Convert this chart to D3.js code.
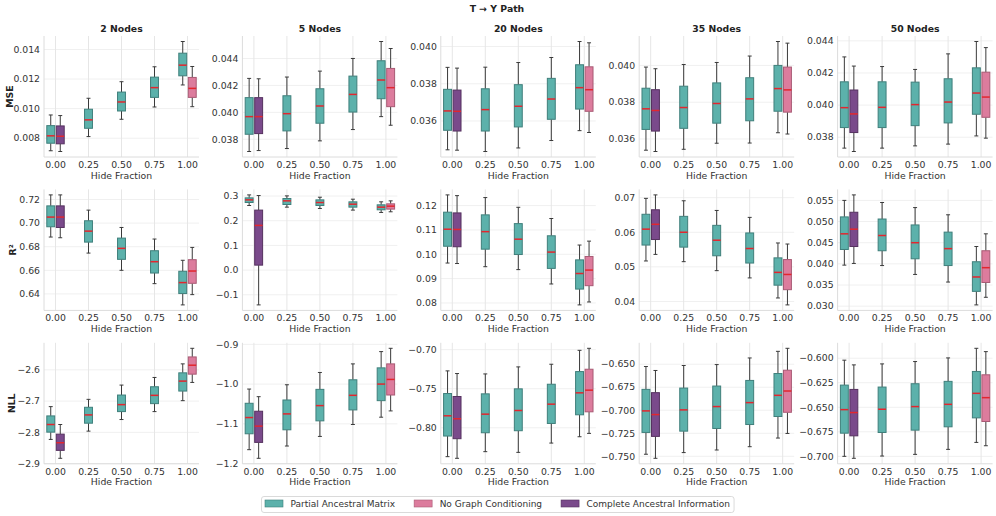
<!DOCTYPE html>
<html>
<head>
<meta charset="utf-8">
<script src="https://cdn.jsdelivr.net/npm/d3@7"></script>
<style>
body { margin: 0; background: #fff; }
svg { display: block; font-family: "DejaVu Sans", sans-serif; }
</style>
</head>
<body>
<svg id="chart"></svg>
<script>
const hideFractions = [0, 0.25, 0.5, 0.75, 1];
const nodeCounts = [2, 5, 20, 35, 50];
const metricNames = ["MSE", "R²", "NLL"];
const seriesNames = ["Partial Ancestral Matrix", "No Graph Conditioning", "Complete Ancestral Information"];

// every box: [whiskerLow, q1, median, q3, whiskerHigh]
// partial: one box per hide fraction, per node count
const msePartial = [
  [[0.00715, 0.00766, 0.00816, 0.00885, 0.00957], [0.00811, 0.00867, 0.00924, 0.00996, 0.0107], [0.00928, 0.00984, 0.01045, 0.01112, 0.01182], [0.01011, 0.01076, 0.01142, 0.01213, 0.01283], [0.0116, 0.01222, 0.01294, 0.01375, 0.01454]],
  [[0.03709, 0.03837, 0.03968, 0.04109, 0.04252], [0.03731, 0.03862, 0.0399, 0.04123, 0.04262], [0.03788, 0.03919, 0.04047, 0.04175, 0.04306], [0.03872, 0.04002, 0.04133, 0.04269, 0.044], [0.03968, 0.04101, 0.0424, 0.04383, 0.04526]],
  [[0.03445, 0.0355, 0.03654, 0.0377, 0.03888], [0.03436, 0.03546, 0.03661, 0.03773, 0.03889], [0.03455, 0.03568, 0.03679, 0.03795, 0.03914], [0.03495, 0.03609, 0.03718, 0.03829, 0.03941], [0.03548, 0.03664, 0.03779, 0.03902, 0.04027]],
  [[0.03539, 0.03652, 0.03764, 0.03876, 0.03991], [0.03544, 0.03658, 0.03771, 0.03887, 0.04005], [0.03577, 0.03686, 0.03793, 0.03905, 0.04016], [0.03578, 0.03699, 0.03818, 0.03933, 0.04051], [0.03634, 0.03751, 0.03874, 0.04, 0.0413]],
  [[0.03732, 0.0386, 0.03984, 0.04145, 0.043], [0.03732, 0.0386, 0.03986, 0.04145, 0.0424], [0.03746, 0.03872, 0.04003, 0.04143, 0.04222], [0.03757, 0.03889, 0.04019, 0.04164, 0.04319], [0.03808, 0.03943, 0.04075, 0.04232, 0.04396]]
];
const mseNoGraph = [
  [0.01013, 0.01076, 0.01137, 0.01211, 0.01285],
  [0.03904, 0.04042, 0.04183, 0.04326, 0.04474],
  [0.03538, 0.03652, 0.03768, 0.03891, 0.0402],
  [0.03627, 0.03746, 0.03867, 0.03991, 0.04121],
  [0.03794, 0.03924, 0.0405, 0.04205, 0.04358]
];
const mseComplete = [
  [0.0071, 0.00762, 0.00813, 0.00883, 0.00953],
  [0.03716, 0.03842, 0.03968, 0.04109, 0.04249],
  [0.03443, 0.03546, 0.03652, 0.03766, 0.03884],
  [0.03532, 0.03643, 0.03755, 0.03868, 0.03982],
  [0.03711, 0.03829, 0.03945, 0.04094, 0.04243]
];

const r2Partial = [
  [[0.6882, 0.6969, 0.7051, 0.7146, 0.7239], [0.6746, 0.6839, 0.6932, 0.702, 0.711], [0.66, 0.6693, 0.6786, 0.6873, 0.6963], [0.6487, 0.6577, 0.6673, 0.6766, 0.6865], [0.6307, 0.6403, 0.6496, 0.6592, 0.6685]],
  [[0.2617, 0.2738, 0.2845, 0.2926, 0.3046], [0.255, 0.2657, 0.2805, 0.29, 0.3006], [0.2496, 0.2617, 0.2738, 0.2845, 0.2952], [0.243, 0.255, 0.267, 0.2765, 0.2872], [0.2335, 0.2443, 0.255, 0.2644, 0.2765]],
  [[0.0964, 0.1033, 0.1103, 0.1173, 0.1244], [0.0949, 0.1021, 0.1093, 0.1162, 0.1233], [0.0937, 0.0999, 0.1062, 0.1126, 0.1193], [0.0878, 0.0942, 0.1009, 0.1076, 0.1147], [0.0792, 0.0857, 0.0921, 0.0977, 0.1038]],
  [[0.0517, 0.0563, 0.0609, 0.0652, 0.0698], [0.0515, 0.0557, 0.06, 0.0646, 0.0691], [0.0489, 0.0532, 0.0577, 0.062, 0.0663], [0.0468, 0.0511, 0.0553, 0.0598, 0.0643], [0.041, 0.0447, 0.0484, 0.0526, 0.0569]],
  [[0.0397, 0.0434, 0.0471, 0.0511, 0.055], [0.0396, 0.0431, 0.0467, 0.0506, 0.0545], [0.0375, 0.0412, 0.045, 0.0492, 0.0533], [0.0357, 0.0396, 0.0436, 0.0475, 0.0516], [0.0303, 0.0335, 0.0369, 0.0405, 0.0441]]
];
const r2NoGraph = [
  [0.6394, 0.649, 0.6594, 0.669, 0.6794],
  [0.2362, 0.247, 0.259, 0.2684, 0.2805],
  [0.0804, 0.0871, 0.0935, 0.0991, 0.1054],
  [0.039, 0.0434, 0.0478, 0.0521, 0.0566],
  [0.0321, 0.0356, 0.0391, 0.0431, 0.0471]
];
const r2Complete = [
  [0.6876, 0.6963, 0.7051, 0.7146, 0.7239],
  [-0.141, 0.0201, 0.181, 0.243, 0.302],
  [0.0962, 0.1031, 0.1102, 0.117, 0.1241],
  [0.0536, 0.0579, 0.0623, 0.0665, 0.0708],
  [0.0401, 0.0441, 0.0482, 0.0522, 0.0563]
];

const nllPartial = [
  [[-2.8226, -2.7993, -2.7749, -2.7474, -2.7177], [-2.7961, -2.7707, -2.7442, -2.7198, -2.6944], [-2.759, -2.7336, -2.7113, -2.6806, -2.6488], [-2.7336, -2.7081, -2.6816, -2.6541, -2.6244], [-2.6986, -2.6679, -2.6361, -2.6096, -2.5809]],
  [[-1.165, -1.125, -1.0842, -1.0483, -1.0125], [-1.1558, -1.115, -1.075, -1.04, -1.0017], [-1.1317, -1.0925, -1.0542, -1.0133, -0.9708], [-1.1017, -1.065, -1.0283, -0.9892, -0.9492], [-1.0833, -1.0417, -1.0, -0.9592, -0.9183]],
  [[-0.837, -0.8106, -0.7847, -0.7562, -0.7272], [-0.8306, -0.8064, -0.7826, -0.7566, -0.7311], [-0.8315, -0.8038, -0.7779, -0.7502, -0.7221], [-0.8196, -0.7945, -0.7698, -0.7443, -0.7187], [-0.8115, -0.7834, -0.7553, -0.7281, -0.7009]],
  [[-0.7478, -0.7241, -0.7007, -0.6773, -0.6525], [-0.746, -0.7227, -0.6996, -0.6759, -0.6514], [-0.7432, -0.7198, -0.696, -0.6737, -0.6504], [-0.7396, -0.7155, -0.6917, -0.6676, -0.6432], [-0.7302, -0.7068, -0.6838, -0.6601, -0.636]],
  [[-0.70, -0.6764, -0.6524, -0.6274, -0.602], [-0.6997, -0.6757, -0.652, -0.6294, -0.6058], [-0.698, -0.6733, -0.6493, -0.626, -0.6034], [-0.6929, -0.6699, -0.647, -0.6236, -0.5997], [-0.6858, -0.6608, -0.6358, -0.6135, -0.5899]]
];
const nllNoGraph = [
  [-2.6403, -2.6138, -2.5852, -2.5587, -2.5311],
  [-1.0675, -1.0275, -0.9883, -0.9492, -0.91],
  [-0.8072, -0.7796, -0.7519, -0.7251, -0.6983],
  [-0.7252, -0.7022, -0.6791, -0.6565, -0.6327],
  [-0.6892, -0.6645, -0.6402, -0.6169, -0.5933]
];
const nllComplete = [
  [-2.883, -2.8576, -2.8332, -2.8057, -2.7749],
  [-1.1867, -1.1467, -1.1058, -1.0683, -1.0317],
  [-0.8391, -0.814, -0.7885, -0.76, -0.7306],
  [-0.7522, -0.7284, -0.7047, -0.6809, -0.6568],
  [-0.702, -0.6791, -0.6554, -0.6318, -0.6068]
];

const mseTicks = [[0.008, 0.010, 0.012, 0.014], [0.038, 0.040, 0.042, 0.044], [0.036, 0.038, 0.040], [0.036, 0.038, 0.040], [0.038, 0.040, 0.042, 0.044]];
const r2Ticks = [[0.64, 0.66, 0.68, 0.70, 0.72], [-0.1, 0.0, 0.1, 0.2, 0.3], [0.08, 0.09, 0.10, 0.11, 0.12], [0.04, 0.05, 0.06, 0.07], [0.030, 0.035, 0.040, 0.045, 0.050, 0.055]];
const nllTicks = [[-2.9, -2.8, -2.7, -2.6], [-1.2, -1.1, -1.0, -0.9], [-0.80, -0.75, -0.70], [-0.750, -0.725, -0.700, -0.675, -0.650], [-0.700, -0.675, -0.650, -0.625, -0.600]];
const xTickLabels = ["0.00", "0.25", "0.50", "0.75", "1.00"];

const partialRows = [msePartial, r2Partial, nllPartial];
const noGraphRows = [mseNoGraph, r2NoGraph, nllNoGraph];
const completeRows = [mseComplete, r2Complete, nllComplete];
const tickRows = [mseTicks, r2Ticks, nllTicks];

const colors = [
  {fill: "#5cb1ab", stroke: "#3f7f7b"},
  {fill: "#dc7c9d", stroke: "#a85a74"},
  {fill: "#7a4a8b", stroke: "#55315f"}
];

var width = 996, height = 516;
var svg = d3.select("#chart").attr("width", width).attr("height", height);

var panelW = 155, panelH = 121;
var colLeft = c => 44 + c * 198.4;
var rowTop = r => 36 + r * 153.4;

var xPad = 11.5 / (panelW - 23);
var boxW = 0.06, boxOff = 0.036;
var fontSize = 9.3;

function decimalsOf(v) {
  var s = String(Math.abs(v));
  var i = s.indexOf(".");
  return i < 0 ? 0 : s.length - i - 1;
}

svg.append("text")
  .attr("x", 497).attr("y", 12)
  .attr("text-anchor", "middle")
  .attr("font-size", fontSize).attr("font-weight", "bold")
  .attr("fill", "#222")
  .text("T → Y Path");

function drawPanel(r, c) {
  var px = colLeft(c), py = rowTop(r);
  var g = svg.append("g").attr("transform", "translate(" + px + "," + py + ")");

  var partial = partialRows[r][c];
  var boxes = partial.map((s, i) => ({x: hideFractions[i], off: (i == 0 || i == 4) ? -boxOff : 0, s: s, k: 0}));
  boxes.push({x: 0, off: boxOff, s: completeRows[r][c], k: 2});
  boxes.push({x: 1, off: boxOff, s: noGraphRows[r][c], k: 1});

  var lo = d3.min(boxes, b => b.s[0]), hi = d3.max(boxes, b => b.s[4]);
  var m = (hi - lo) * 0.05;

  var x = d3.scaleLinear().domain([-xPad, 1 + xPad]).range([0, panelW]);
  var y = d3.scaleLinear().domain([lo - m, hi + m]).range([panelH, 0]);

  var ticks = tickRows[r][c];
  var fmt = d3.format("." + d3.max(ticks, decimalsOf) + "f");

  // grid
  g.selectAll("line.hg").data(ticks).join("line").attr("class", "hg")
    .attr("x1", 0).attr("x2", panelW)
    .attr("y1", d => y(d)).attr("y2", d => y(d))
    .attr("stroke", "#f0f0f0").attr("stroke-width", 1);
  g.selectAll("line.vg").data(hideFractions).join("line").attr("class", "vg")
    .attr("x1", d => x(d)).attr("x2", d => x(d))
    .attr("y1", 0).attr("y2", panelH)
    .attr("stroke", "#e6e6e6").attr("stroke-width", 1);

  // spines
  g.append("line").attr("x1", 0).attr("x2", 0).attr("y1", 0).attr("y2", panelH)
    .attr("stroke", "#dcdcdc").attr("stroke-width", 1);
  g.append("line").attr("x1", 0).attr("x2", panelW).attr("y1", panelH).attr("y2", panelH)
    .attr("stroke", "#dcdcdc").attr("stroke-width", 1);

  g.selectAll("text.yt").data(ticks).join("text").attr("class", "yt")
    .attr("x", -4).attr("y", d => y(d))
    .attr("dy", "0.35em").attr("text-anchor", "end")
    .attr("font-size", fontSize).attr("fill", "#333")
    .text(d => fmt(d));

  g.selectAll("text.xt").data(hideFractions).join("text").attr("class", "xt")
    .attr("x", d => x(d)).attr("y", panelH + 11)
    .attr("text-anchor", "middle")
    .attr("font-size", fontSize).attr("fill", "#333")
    .text((d, i) => xTickLabels[i]);

  g.append("text")
    .attr("x", panelW / 2).attr("y", panelH + 21.5)
    .attr("text-anchor", "middle")
    .attr("font-size", fontSize).attr("fill", "#333")
    .text("Hide Fraction");

  if (r == 0) {
    g.append("text")
      .attr("x", panelW / 2).attr("y", -4)
      .attr("text-anchor", "middle")
      .attr("font-size", fontSize).attr("font-weight", "bold").attr("fill", "#222")
      .text(nodeCounts[c] + " Nodes");
  }

  var bw = x(boxW) - x(0);
  g.selectAll("g.box").data(boxes).join("g").attr("class", "box")
    .each(function (b) {
      var el = d3.select(this);
      var cx = x(b.x + b.off);
      var col = colors[b.k];
      [[b.s[0], b.s[1]], [b.s[3], b.s[4]]].forEach(w => {
        el.append("line").attr("x1", cx).attr("x2", cx)
          .attr("y1", y(w[0])).attr("y2", y(w[1]))
          .attr("stroke", "#3a3a3a").attr("stroke-width", 1);
      });
      [b.s[0], b.s[4]].forEach(v => {
        el.append("line").attr("x1", cx - bw / 4).attr("x2", cx + bw / 4)
          .attr("y1", y(v)).attr("y2", y(v))
          .attr("stroke", "#3a3a3a").attr("stroke-width", 1);
      });
      el.append("rect")
        .attr("x", cx - bw / 2).attr("width", bw)
        .attr("y", y(b.s[3])).attr("height", y(b.s[1]) - y(b.s[3]))
        .attr("fill", col.fill).attr("stroke", col.stroke).attr("stroke-width", 1);
      el.append("line").attr("x1", cx - bw / 2).attr("x2", cx + bw / 2)
        .attr("y1", y(b.s[2])).attr("y2", y(b.s[2]))
        .attr("stroke", "#e3262e").attr("stroke-width", 1.5);
    });
}

for (var r = 0; r < 3; r++) {
  for (var c = 0; c < 5; c++) drawPanel(r, c);
}

// row labels
var labelX = [10, 13, 12];
metricNames.forEach((name, r) => {
  var cy = rowTop(r) + panelH / 2;
  svg.append("text")
    .attr("transform", "translate(" + labelX[r] + "," + cy + ") rotate(-90)")
    .attr("dy", "0.35em")
    .attr("text-anchor", "middle")
    .attr("font-size", fontSize).attr("font-weight", "bold").attr("fill", "#222")
    .text(name);
});

// legend
var legend = svg.append("g");
var lx = 265, ly = 503.5;
var frame = legend.append("rect")
  .attr("y", 496.5).attr("height", 16)
  .attr("rx", 2.5).attr("fill", "#fff")
  .attr("stroke", "#d0d0d0").attr("stroke-width", 0.8);
seriesNames.forEach((name, k) => {
  legend.append("rect")
    .attr("x", lx).attr("y", ly - 3.5).attr("width", 18).attr("height", 7)
    .attr("fill", colors[k].fill).attr("stroke", colors[k].stroke).attr("stroke-width", 0.6);
  var t = legend.append("text")
    .attr("x", lx + 25.5).attr("y", ly).attr("dy", "0.35em")
    .attr("font-size", 9).attr("fill", "#333")
    .text(name);
  lx = lx + 25.5 + t.node().getComputedTextLength() + 19;
});
frame.attr("x", 261.5).attr("width", lx - 19 + 4 - 261.5);
</script>
</body>
</html>
